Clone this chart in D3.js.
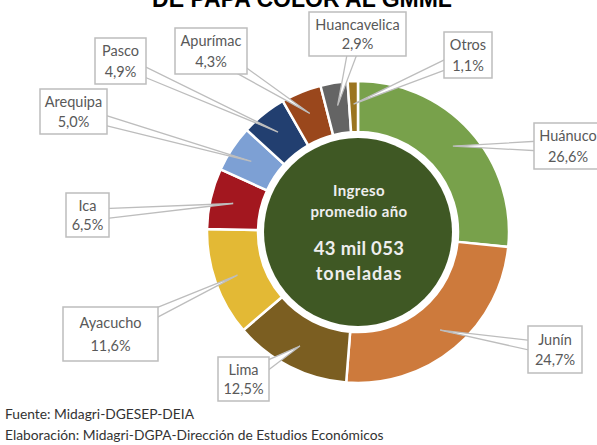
<!DOCTYPE html>
<html>
<head>
<meta charset="utf-8">
<script src="https://cdn.jsdelivr.net/npm/d3@7"></script>
<style>
  html, body { margin: 0; padding: 0; background: #fff; }
  svg { display: block; }
</style>
</head>
<body>
<div id="chart"></div>
<script>
// ---- data ----
const categories = ["Huánuco", "Junín", "Lima", "Ayacucho", "Ica", "Arequipa", "Pasco", "Apurímac", "Huancavelica", "Otros"];
const shares = [26.6, 24.7, 12.5, 11.6, 6.5, 5.0, 4.9, 4.3, 2.9, 1.1];
const centerLines = ["Ingreso", "promedio año", "43 mil 053", "toneladas"];
const titleText = "DE PAPA COLOR AL GMML";
const sourceLines = ["Fuente: Midagri-DGESEP-DEIA", "Elaboración: Midagri-DGPA-Dirección de Estudios Económicos"];

// ---- styles / layout ----
const sliceColors = ["#78a14b", "#cd7a3c", "#7b5e21", "#e3b935", "#a3171f", "#7da0d4", "#223f70", "#9a471c", "#646464", "#9b7521"];
const boxLayout = {
  "Huánuco":      {x: 534, y: 123, w: 68, h: 46},
  "Junín":        {x: 528, y: 326, w: 54, h: 47},
  "Lima":         {x: 218, y: 357, w: 51, h: 44},
  "Ayacucho":     {x: 63,  y: 307, w: 95, h: 54},
  "Ica":          {x: 66,  y: 193, w: 43, h: 44},
  "Arequipa":     {x: 40,  y: 89,  w: 67, h: 45},
  "Pasco":        {x: 95,  y: 38,  w: 51, h: 46},
  "Apurímac":     {x: 175, y: 28,  w: 72, h: 46},
  "Huancavelica": {x: 309, y: 12,  w: 97, h: 44},
  "Otros":        {x: 444, y: 32,  w: 48, h: 46}
};

const W = 597, H = 445;
const cx = 358, cy = 232;
const rOuter = 151, rInner = 100, rHole = 94, rAnchor = 128;

const svg = d3.select("#chart").append("svg").attr("width", W).attr("height", H);

const data = categories.map((c, i) => ({cat: c, v: shares[i], color: sliceColors[i]}));
const pie = d3.pie().sort(null).value(d => d.v).startAngle(0).endAngle(2 * Math.PI);
const arcs = pie(data);
const arc = d3.arc().innerRadius(rInner).outerRadius(rOuter);
const anchorArc = d3.arc().innerRadius(rAnchor).outerRadius(rAnchor);

const g = svg.append("g").attr("transform", `translate(${cx},${cy})`);
g.selectAll("path.slice").data(arcs).join("path")
  .attr("class", "slice")
  .attr("d", arc)
  .attr("fill", d => d.data.color)
  .attr("stroke", "#fff")
  .attr("stroke-width", 2.5)
  .attr("stroke-linejoin", "miter");

g.append("circle").attr("r", rHole).attr("fill", "#3f5824");

// title (cut off at top, as in the reference)
svg.append("text")
  .attr("x", 302).attr("y", 7)
  .attr("text-anchor", "middle")
  .attr("font-family", "Liberation Sans, Arial, sans-serif")
  .attr("font-weight", "bold")
  .attr("font-size", 23)
  .attr("fill", "#000")
  .text(titleText);

// callouts
const fmt = v => d3.format(".1f")(v).replace(".", ",") + "%";
const lab = svg.append("g");
arcs.forEach(d => {
  const b = boxLayout[d.data.cat];
  const c = anchorArc.centroid(d);
  const ax = cx + c[0], ay = cy + c[1];
  const bx = b.x + b.w / 2, by = b.y + b.h / 2;
  const dx = ax - bx, dy = ay - by;
  const t = Math.min((b.w / 2) / Math.abs(dx || 1e-6), (b.h / 2) / Math.abs(dy || 1e-6)) * 0.8;
  const px = bx + dx * t, py = by + dy * t;
  const len = Math.hypot(dx, dy);
  const ux = -dy / len, uy = dx / len;
  const hw = 5;
  lab.append("path")
    .attr("d", `M${px + ux * hw},${py + uy * hw}L${ax},${ay}L${px - ux * hw},${py - uy * hw}Z`)
    .attr("fill", "#fff")
    .attr("stroke", "#bdbdbd")
    .attr("stroke-width", 1.3);
});
arcs.forEach(d => {
  const b = boxLayout[d.data.cat];
  lab.append("rect")
    .attr("x", b.x).attr("y", b.y).attr("width", b.w).attr("height", b.h)
    .attr("fill", "#fff").attr("stroke", "#bdbdbd").attr("stroke-width", 1.5);
  const t = lab.append("text")
    .attr("text-anchor", "middle")
    .attr("font-family", "Lato, 'Open Sans', sans-serif")
    .attr("font-size", 14.5)
    .attr("fill", "#595959");
  t.append("tspan").attr("x", b.x + b.w / 2).attr("y", b.y + b.h * 0.28).attr("dominant-baseline", "central").text(d.data.cat);
  t.append("tspan").attr("x", b.x + b.w / 2).attr("y", b.y + b.h * 0.72).attr("dominant-baseline", "central").text(fmt(d.data.v));
});

// center text
const ct = svg.append("g").attr("fill", "#eeeeee").attr("text-anchor", "middle")
  .attr("font-family", "Lato, 'Open Sans', sans-serif");
const cys = [190, 211, 248, 273];
const csz = [15, 15, 18.5, 18];
const cls = [0.4, 0.4, 0.3, 1];
centerLines.forEach((s, i) => {
  ct.append("text").attr("x", cx + 1).attr("y", cys[i]).attr("dominant-baseline", "central")
    .attr("font-size", csz[i]).attr("font-weight", "bold")
    .attr("letter-spacing", cls[i])
    .text(s);
});

// source
sourceLines.forEach((s, i) => {
  svg.append("text").attr("x", 5).attr("y", 419 + i * 21)
    .attr("font-family", "Lato, 'Open Sans', sans-serif")
    .attr("font-size", 13.8)
    .attr("fill", "#333")
    .text(s);
});
</script>
</body>
</html>
